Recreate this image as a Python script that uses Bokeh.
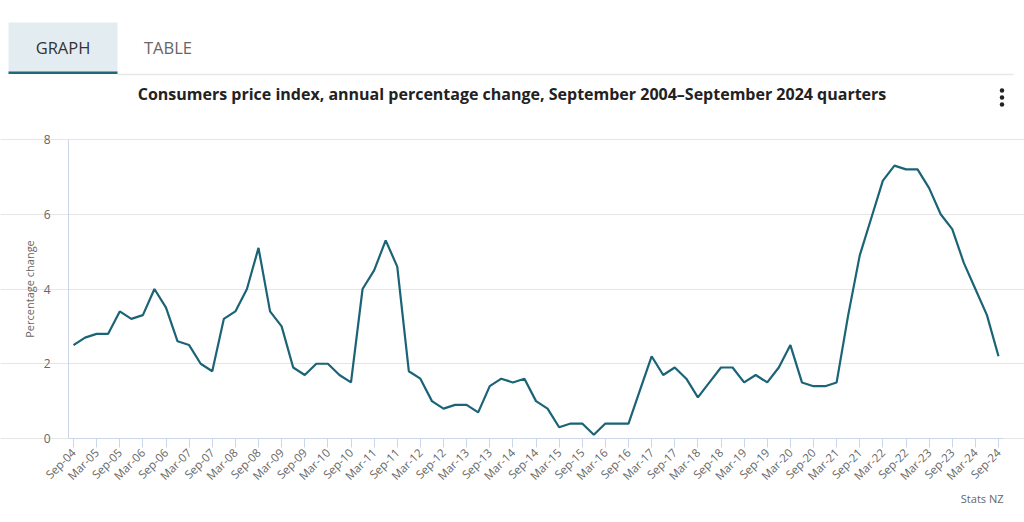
import math
from bokeh.plotting import figure
from bokeh.models import Range1d, FixedTicker
from bokeh.embed import file_html
from bokeh.resources import INLINE
from bokeh.core.properties import value

quarters = [
    "Sep-04", "Dec-04", "Mar-05", "Jun-05", "Sep-05", "Dec-05", "Mar-06", "Jun-06",
    "Sep-06", "Dec-06", "Mar-07", "Jun-07", "Sep-07", "Dec-07", "Mar-08", "Jun-08",
    "Sep-08", "Dec-08", "Mar-09", "Jun-09", "Sep-09", "Dec-09", "Mar-10", "Jun-10",
    "Sep-10", "Dec-10", "Mar-11", "Jun-11", "Sep-11", "Dec-11", "Mar-12", "Jun-12",
    "Sep-12", "Dec-12", "Mar-13", "Jun-13", "Sep-13", "Dec-13", "Mar-14", "Jun-14",
    "Sep-14", "Dec-14", "Mar-15", "Jun-15", "Sep-15", "Dec-15", "Mar-16", "Jun-16",
    "Sep-16", "Dec-16", "Mar-17", "Jun-17", "Sep-17", "Dec-17", "Mar-18", "Jun-18",
    "Sep-18", "Dec-18", "Mar-19", "Jun-19", "Sep-19", "Dec-19", "Mar-20", "Jun-20",
    "Sep-20", "Dec-20", "Mar-21", "Jun-21", "Sep-21", "Dec-21", "Mar-22", "Jun-22",
    "Sep-22", "Dec-22", "Mar-23", "Jun-23", "Sep-23", "Dec-23", "Mar-24", "Jun-24",
    "Sep-24",
]
cpi_change = [
    2.5, 2.7, 2.8, 2.8, 3.4, 3.2, 3.3, 4.0,
    3.5, 2.6, 2.5, 2.0, 1.8, 3.2, 3.4, 4.0,
    5.1, 3.4, 3.0, 1.9, 1.7, 2.0, 2.0, 1.7,
    1.5, 4.0, 4.5, 5.3, 4.6, 1.8, 1.6, 1.0,
    0.8, 0.9, 0.9, 0.7, 1.4, 1.6, 1.5, 1.6,
    1.0, 0.8, 0.3, 0.4, 0.4, 0.1, 0.4, 0.4,
    0.4, 1.3, 2.2, 1.7, 1.9, 1.6, 1.1, 1.5,
    1.9, 1.9, 1.5, 1.7, 1.5, 1.9, 2.5, 1.5,
    1.4, 1.4, 1.5, 3.3, 4.9, 5.9, 6.9, 7.3,
    7.2, 7.2, 6.7, 6.0, 5.6, 4.7, 4.0, 3.3,
    2.2,
]
y_ticks = [0, 2, 4, 6, 8]
tab_labels = ["GRAPH", "TABLE"]
title_text = "Consumers price index, annual percentage change, September 2004\u2013September 2024 quarters"
source_text = "Stats NZ"
y_label = "Percentage change"

FONT = "Open Sans"
LINE_COLOR = "#1b6376"
W, H = 1024, 522

# pixel geometry of the plotting area (canvas = whole figure)
PX0, PX1 = 73.0, 998.0        # first / last quarter
PY0, PY8 = 438.0, 139.0       # y = 0 / y = 8
n = len(quarters)
kx = (PX1 - PX0) / (n - 1)
ky = (PY0 - PY8) / 8.0


def dx(px):
    return (px - PX0) / kx


def dy(py):
    return (PY0 - py) / ky


x_range = Range1d(dx(0), dx(W))
y_range = Range1d(dy(H), dy(0))

p = figure(width=W, height=H, x_range=x_range, y_range=y_range,
           output_backend="svg", toolbar_location=None, min_border=0,
           min_border_left=0, min_border_right=0, min_border_top=0, min_border_bottom=0)
p.outline_line_color = None

AX_L, AX_R = dx(68), dx(1003)

# ---- data line ----
x = list(range(n))
p.line(x, cpi_change, line_color=LINE_COLOR, line_width=2.2)

# ---- axes (fixed inside the full-canvas frame) ----
xa = p.xaxis[0]
xa.fixed_location = 0
xa.bounds = (AX_L, AX_R)
xa.ticker = FixedTicker(ticks=list(range(0, n, 2)))
xa.major_label_overrides = {i: quarters[i] for i in range(0, n, 2)}
xa.major_label_orientation = math.pi / 4
xa.major_tick_out = 9
xa.major_tick_in = 0
xa.minor_tick_line_color = None
xa.axis_line_color = "#ccd6eb"
xa.major_tick_line_color = "#ccd6eb"
xa.major_label_text_color = "#666666"
xa.major_label_text_font = FONT
xa.major_label_text_font_size = "11.5px"
xa.major_label_standoff = 3

ya = p.yaxis[0]
ya.fixed_location = AX_L
ya.bounds = (0, 8)
ya.ticker = FixedTicker(ticks=y_ticks)
ya.major_tick_line_color = None
ya.minor_tick_line_color = None
ya.axis_line_color = "#ccd6eb"
ya.major_label_text_color = "#666666"
ya.major_label_text_font = FONT
ya.major_label_text_font_size = "12px"
ya.major_label_standoff = 12
ya.axis_label = y_label
ya.axis_label_text_font = FONT
ya.axis_label_text_font_size = "11px"
ya.axis_label_text_font_style = "normal"
ya.axis_label_text_color = "#666666"
ya.axis_label_standoff = 4

p.xgrid.visible = False
p.ygrid.ticker = FixedTicker(ticks=y_ticks)
p.ygrid.bounds = (AX_L, AX_R)
p.ygrid.grid_line_color = "#e6e6e6"

# ---- header: tabs, separator, title, menu icon ----
p.quad(left=[dx(8)], right=[dx(117)], top=[dy(22)], bottom=[dy(72)],
       fill_color="#e3edf1", line_color=None)
p.quad(left=[dx(8)], right=[dx(117)], top=[dy(71)], bottom=[dy(73.5)],
       fill_color="#1f6a7a", line_color=None)
p.segment(x0=[dx(117)], y0=[dy(74)], x1=[dx(1013)], y1=[dy(74)],
          line_color="#e8e8e8", line_width=1.5)
p.text(x=[dx(62.5), dx(167.5)], y=[dy(47), dy(47)], text=tab_labels,
       text_align="center", text_baseline="middle", text_font=value(FONT),
       text_font_size="16.5px", text_color=["#333333", "#666666"])
p.text(x=[dx(511.5)], y=[dy(93)], text=[title_text], text_align="center",
       text_baseline="middle", text_font=value(FONT), text_font_size="16px",
       text_font_style="bold", text_color="#222222")
p.scatter(x=[dx(1001.5)] * 3, y=[dy(90), dy(97), dy(104)], size=4.5,
          fill_color="#222222", line_color=None)
p.text(x=[dx(1003)], y=[dy(498)], text=[source_text], text_align="right",
       text_baseline="middle", text_font=value(FONT), text_font_size="11px",
       text_color="#666666")

open("out.html", "w").write(file_html(p, INLINE))
